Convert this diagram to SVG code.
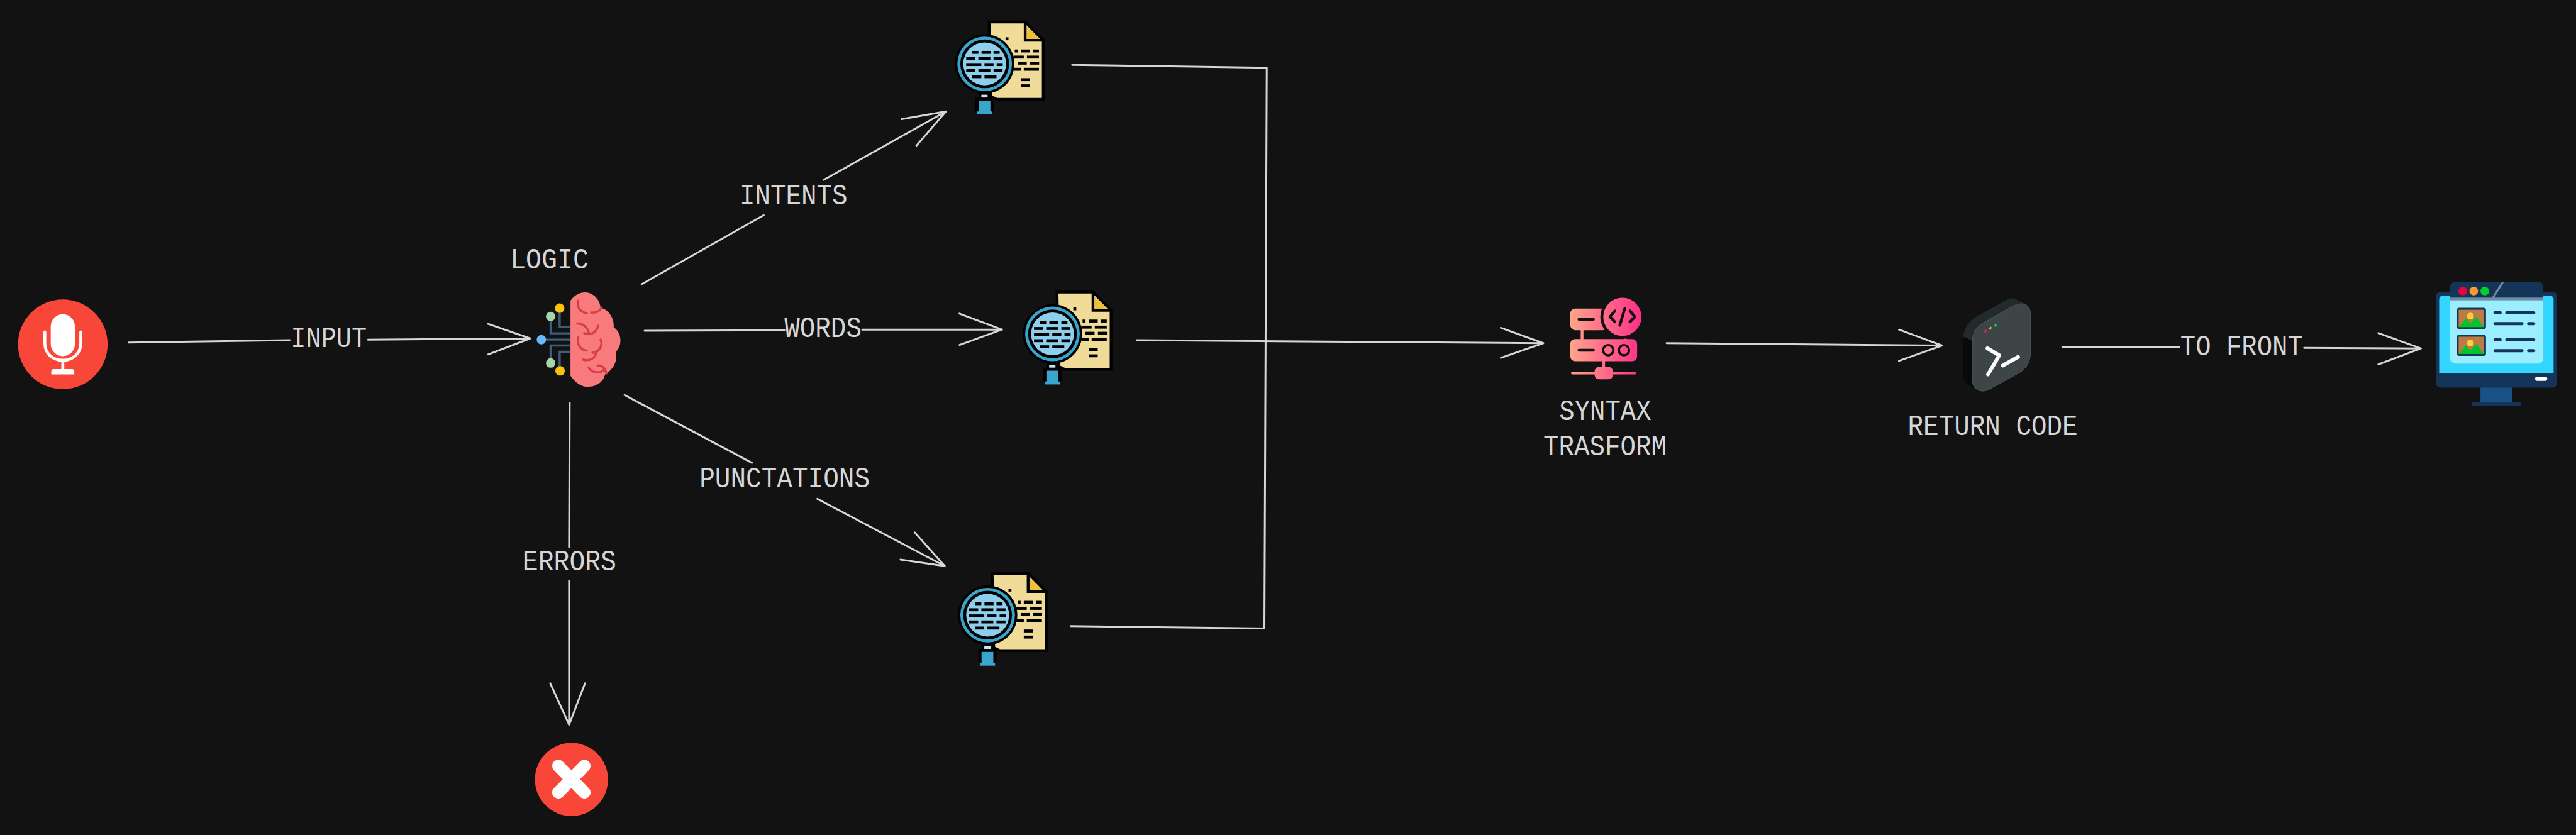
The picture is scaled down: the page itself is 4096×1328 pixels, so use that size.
<svg xmlns="http://www.w3.org/2000/svg" xmlns:xlink="http://www.w3.org/1999/xlink" width="4096" height="1328" viewBox="0 0 4096 1328">
<style>
.c{fill:none;stroke:#d6d6d6;stroke-width:3.2;stroke-linecap:round;stroke-linejoin:round}
.t{font-family:"Liberation Mono",monospace;font-size:50px;fill:#d6d6d6}
.k{fill:#000}
.cr{fill:none;stroke:#D33F44;stroke-width:11;stroke-linecap:round}
.ci{fill:none;stroke:#3E5C7C;stroke-width:11}
.sb{fill:none;stroke:#121212;stroke-width:14;stroke-linecap:round;stroke-linejoin:round}
.ml{fill:none;stroke:#143557;stroke-width:16;stroke-linecap:round}
</style>
<defs>
<linearGradient id="sg" gradientUnits="userSpaceOnUse" x1="188" y1="0" x2="550" y2="0"><stop offset="0" stop-color="#FFA58C"/><stop offset="1" stop-color="#FF2E87"/></linearGradient>
<g id="doc">
<path d="M262 52H445L537 145V445H300L270 430Z" fill="#F0DC98" stroke="#000" stroke-width="14"/>
<path d="M453 75V138H518Z" fill="#F0BF33"/>
<path d="M445 55V145H535" fill="none" stroke="#000" stroke-width="14"/>
<g class="k"><rect x="345" y="130" width="15" height="15"/><rect x="392" y="192" width="15" height="15"/><rect x="423" y="192" width="46" height="15"/><rect x="485" y="192" width="30" height="15"/><rect x="385" y="223" width="53" height="15"/><rect x="454" y="223" width="61" height="15"/><rect x="407" y="254" width="46" height="15"/><rect x="470" y="254" width="46" height="15"/><rect x="385" y="285" width="38" height="15"/><rect x="438" y="285" width="77" height="15"/><rect x="423" y="338" width="46" height="15"/><rect x="423" y="369" width="46" height="15"/></g>
<rect x="208" y="410" width="60" height="35" fill="#000"/><rect x="222" y="422" width="32" height="15" fill="#CFE0EE"/>
<rect x="192" y="437" width="92" height="70" fill="#000"/><rect x="208" y="452" width="60" height="60" fill="#3AA5CC"/><rect x="199" y="507" width="78" height="15" fill="#3AA5CC"/>
<circle cx="239" cy="265" r="151" fill="#000"/><circle cx="239" cy="265" r="139" fill="#3AA5CC"/><circle cx="239" cy="265" r="124" fill="#000"/><circle cx="239" cy="265" r="109" fill="#8ECFEE"/>
<g class="k"><rect x="176" y="199" width="31" height="15"/><rect x="223" y="199" width="46" height="15"/><rect x="284" y="199" width="31" height="15"/><rect x="145" y="230" width="46" height="15"/><rect x="207" y="230" width="61" height="15"/><rect x="284" y="230" width="46" height="15"/><rect x="145" y="261" width="77" height="15"/><rect x="238" y="261" width="46" height="15"/><rect x="300" y="261" width="31" height="15"/><rect x="145" y="292" width="46" height="15"/><rect x="207" y="292" width="61" height="15"/><rect x="284" y="292" width="46" height="15"/><rect x="176" y="323" width="46" height="15"/><rect x="238" y="323" width="61" height="15"/></g>
</g>
<g id="pic">
<rect x="198" y="216" width="148" height="108" rx="12" fill="#143557"/><rect x="207" y="226" width="130" height="88" fill="#BE7A45"/>
<circle cx="267" cy="258" r="17" fill="#FFD23C"/><path d="M208 314L243 270L268 296L297 262L336 314Z" fill="#00C42B"/>
</g>
<g id="picl"><path class="ml" d="M392 241H418M452 241H589M392 297H529M563 297H589"/></g>
</defs>
<rect width="4096" height="1328" fill="#121212"/>
<g transform="scale(0.93773)">
<g id="connectors">
<path class="c" d="M218 581L491 577M624 576L899 574M827 549L899 574L828 601"/>
<text class="t" x="493" y="589" textLength="129" lengthAdjust="spacingAndGlyphs">INPUT</text>
<path class="c" d="M1088 482L1295 365M1397 305L1604 189M1529 202L1604 189L1554 247"/>
<text class="t" x="1254" y="347" textLength="183" lengthAdjust="spacingAndGlyphs">INTENTS</text>
<path class="c" d="M1093 561L1330 560M1462 559L1699 559M1627 532L1699 559L1627 585"/>
<text class="t" x="1330" y="572" textLength="131" lengthAdjust="spacingAndGlyphs">WORDS</text>
<path class="c" d="M1059 670L1275 785M1386 846L1602 960M1551 903L1602 960L1527 949"/>
<text class="t" x="1186" y="826" textLength="289" lengthAdjust="spacingAndGlyphs">PUNCTATIONS</text>
<path class="c" d="M966 683L965 928M965 985L965 1229M933 1159L965 1229L992 1159"/>
<text class="t" x="886" y="967" textLength="159" lengthAdjust="spacingAndGlyphs">ERRORS</text>
<path class="c" d="M1818 110L2148 115L2144 1066L1816 1062"/>
<path class="c" d="M1928 577L2617 582M2545 556L2617 582L2545 607"/>
<path class="c" d="M2826 582L3293 586M3220 559L3293 586L3220 612"/>
<path class="c" d="M3497 588L3695 589M3907 590L4105 591M4033 565L4105 591L4033 618"/>
<text class="t" x="3697" y="602" textLength="208" lengthAdjust="spacingAndGlyphs">TO FRONT</text>
</g>
<g id="mic">
<circle cx="106.500" cy="584" r="76" fill="#F84638"/>
<rect x="86" y="533" width="41" height="71" rx="20.500" fill="#fff"/>
<path d="M76 563V582C76 600 90 611 106.500 611C123 611 137 600 137 582V563" fill="none" stroke="#fff" stroke-width="5" stroke-linecap="round"/>
<path d="M106.500 611V628" stroke="#fff" stroke-width="5"/>
<path d="M87 635V630Q87 626 91 626H122Q126 626 126 630V635Z" fill="#fff"/>
</g>
<g id="logic">
<text class="t" x="865" y="455" textLength="133" lengthAdjust="spacingAndGlyphs">LOGIC</text>
<g transform="translate(840 440) scale(.33333)">
<path class="ci" d="M382 344H327V250M382 376H281V290M382 408H234M382 438H281V526M382 470H327V567"/>
<circle cx="327" cy="248" r="24" fill="#FFC107"/><circle cx="281" cy="290" r="24" fill="#A5D6A7"/><circle cx="234" cy="408" r="24" fill="#67BBFD"/><circle cx="281" cy="527" r="24" fill="#A5D6A7"/><circle cx="329" cy="567" r="24" fill="#FFC107"/>
<path d="M382 210C405 180 430 168 455 168C495 168 530 200 535 245C575 255 605 295 602 346C625 360 636 385 636 412C636 435 628 455 612 470C622 510 608 555 558 585C550 625 510 648 470 648C435 648 405 625 382 592Z" fill="#F87A7D"/>
<path class="cr" d="M422 210C412 240 430 268 465 274M487 270C510 272 530 265 540 245M416 326C445 325 470 345 478 380M452 375C480 388 515 375 522 337M422 397C412 430 432 460 465 464M535 408C548 440 530 470 494 475M512 474C510 500 480 520 447 510M475 552C495 582 540 580 553 560M520 540C540 535 560 555 565 580"/>
</g>
</g>
<g id="error"><circle cx="969" cy="1322" r="62" fill="#F84638"/><path d="M946.700 1299L991 1344M991 1299L946.700 1344" stroke="#fff" stroke-width="21" stroke-linecap="round"/></g>
<g id="doc-intents"><use xlink:href="#doc" href="#doc" transform="translate(1590 20) scale(.33333)"/></g>
<g id="doc-words"><use xlink:href="#doc" href="#doc" transform="translate(1705 478) scale(.33333)"/></g>
<g id="doc-punctations"><use xlink:href="#doc" href="#doc" transform="translate(1595 955) scale(.33333)"/></g>
<g id="syntax">
<g transform="translate(2600 480) scale(.33333)">
<path d="M248 235V290M467 260V290M358 395V430" stroke="url(#sg)" stroke-width="14" fill="none"/>
<rect x="188" y="130" width="190" height="110" rx="25" fill="url(#sg)"/>
<circle cx="453" cy="172" r="112" fill="#121212"/><circle cx="453" cy="172" r="97" fill="url(#sg)"/>
<rect x="188" y="285" width="340" height="113" rx="25" fill="url(#sg)"/>
<rect x="192" y="451" width="332" height="14" rx="7" fill="url(#sg)"/>
<rect x="312" y="427" width="93" height="63" rx="22" fill="url(#sg)"/>
<path class="sb" d="M232 185H306M232 342H306M415 142L390 172L415 198M492 142L517 172L492 198M465 130L440 215"/>
<circle cx="381" cy="342" r="26" fill="none" stroke="#121212" stroke-width="12"/><circle cx="461" cy="342" r="26" fill="none" stroke="#121212" stroke-width="12"/>
</g>
<text class="t" x="2644" y="712" textLength="156" lengthAdjust="spacingAndGlyphs">SYNTAX</text>
<text class="t" x="2617" y="772" textLength="209" lengthAdjust="spacingAndGlyphs">TRASFORM</text>
</g>
<g id="return-code">
<g transform="translate(3280 480) scale(.33333)">
<path d="M148 275C150 225 180 190 215 170L370 85C385 75 400 75 420 85L475 115L300 400L200 295Z" fill="#232A2C"/>
<path d="M148 275L200 295V530L175 520C155 510 148 490 148 470Z" fill="#060A0A"/>
<path d="M193 300C195 250 215 225 245 205L400 118C450 90 490 110 490 165V345C490 395 470 435 435 455L280 540C235 565 193 540 193 495Z" fill="#3E4547" stroke="#555C5E" stroke-width="3"/>
<ellipse cx="260" cy="245" rx="5" ry="8" transform="rotate(30 260 245)" fill="#E91E78"/><ellipse cx="285" cy="230" rx="5" ry="8" transform="rotate(30 285 230)" fill="#F5B90F"/><ellipse cx="311" cy="215" rx="5" ry="8" transform="rotate(30 311 215)" fill="#14C79B"/>
<path d="M270 332L330 368L273 465M348 420L426 376" fill="none" stroke="#fff" stroke-width="19" stroke-linecap="round" stroke-linejoin="round"/>
</g>
<text class="t" x="3235" y="738" textLength="288" lengthAdjust="spacingAndGlyphs">RETURN CODE</text>
</g>
<g id="front">
<g transform="translate(4100 450) scale(.33333)">
<rect x="318" y="615" width="162" height="85" fill="#1A5288"/>
<rect x="274" y="696" width="251" height="18" rx="9" fill="#143557"/>
<rect x="92" y="135" width="615" height="487" rx="22" fill="#143557"/>
<path d="M108 548V173Q108 155 126 155H672Q690 155 690 173V548Z" fill="#33D6FF"/>
<rect x="596" y="566" width="62" height="22" rx="11" fill="#fff"/>
<rect x="163" y="120" width="475" height="380" rx="30" fill="#9AEEFF"/>
<path d="M163 166V115Q163 85 193 85H608Q638 85 638 115V166Z" fill="#143557"/>
<rect x="163" y="165" width="475" height="13" fill="#6F8CA0"/>
<path d="M432 85L380 167" stroke="#6F8CA0" stroke-width="10"/>
<circle cx="228" cy="131" r="22" fill="#E8003F"/><circle cx="284" cy="131" r="22" fill="#FF9A2E"/><circle cx="340" cy="131" r="22" fill="#00D02C"/>
<use xlink:href="#pic" href="#pic"/><use xlink:href="#pic" href="#pic" transform="translate(0 137)"/>
<use xlink:href="#picl" href="#picl"/><use xlink:href="#picl" href="#picl" transform="translate(0 137)"/>
</g>
</g>
</g>
</svg>
